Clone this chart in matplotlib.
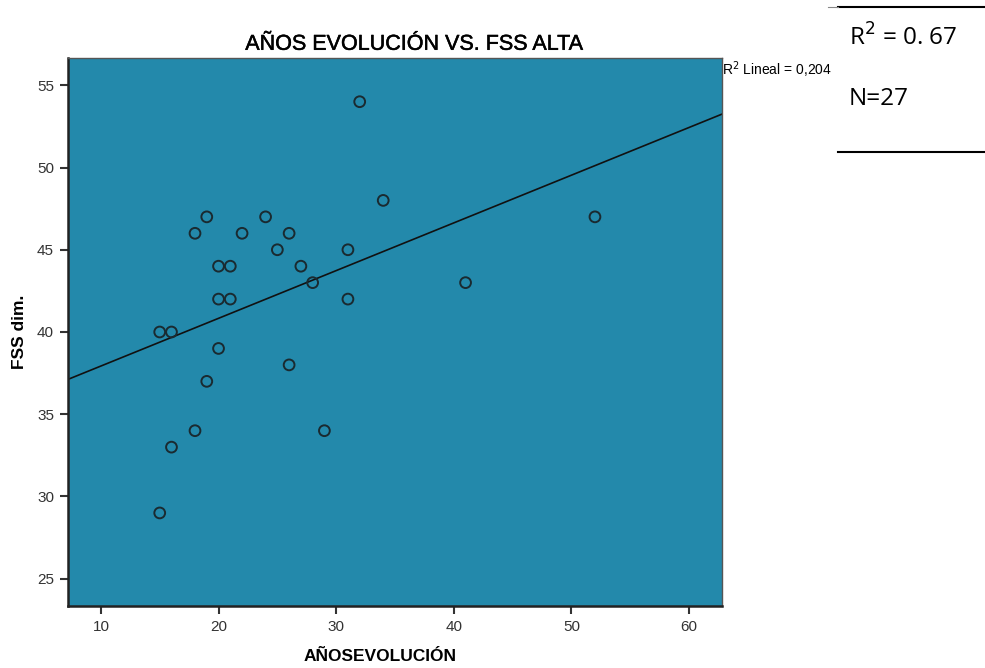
import numpy as np
import matplotlib
matplotlib.use('Agg')
import matplotlib.pyplot as plt
import matplotlib.patheffects as pe
from matplotlib.lines import Line2D

plt.rcParams['font.family'] = ['Liberation Sans', 'DejaVu Sans']

# =====================
# DATA
# =====================
anos_evolucion = [32, 34, 19, 24, 52, 18, 22, 26, 25, 31, 20, 21, 27, 28,
                  41, 20, 21, 31, 15, 16, 20, 26, 19, 18, 29, 16, 15]
fss_dim = [54, 48, 47, 47, 47, 46, 46, 46, 45, 45, 44, 44, 44, 43,
           43, 42, 42, 42, 40, 40, 39, 38, 37, 34, 34, 33, 29]
x_ticks = [10, 20, 30, 40, 50, 60]
y_ticks = [25, 30, 35, 40, 45, 50, 55]

# =====================
# FIGURE
# =====================
fig = plt.figure(figsize=(9.85, 6.68), dpi=100)
ax = fig.add_axes([0.069, 0.093, 0.664, 0.820])
ax.set_facecolor('#2389ab')

ax.scatter(anos_evolucion, fss_dim, s=60, facecolors='none',
           edgecolors='#1a2a30', linewidths=1.4, zorder=3)

# regression line
slope, intercept = np.polyfit(anos_evolucion, fss_dim, 1)
xl = np.array([7.2, 62.8])
ax.plot(xl, slope * xl + intercept, color='#111111', lw=1.2, zorder=2)

ax.set_xlim(7.2, 62.8)
ax.set_ylim(23.35, 56.65)
ax.set_xticks(x_ticks)
ax.set_yticks(y_ticks)
ax.tick_params(direction='out', length=6, width=1.5, color='#333333',
               labelsize=11, labelcolor='#333333', pad=4)
for s in ['top', 'right']:
    ax.spines[s].set_linewidth(1.0)
    ax.spines[s].set_color('#555555')
for s in ['left', 'bottom']:
    ax.spines[s].set_linewidth(1.8)
    ax.spines[s].set_color('#222222')

ttl = ax.set_title('AÑOS EVOLUCIÓN VS. FSS ALTA', fontsize=15.5, pad=6, x=0.529)
ttl.set_path_effects([pe.withStroke(linewidth=0.35, foreground='black')])
ax.set_xlabel('AÑOSEVOLUCIÓN', fontsize=12.5, fontweight='bold')
ax.xaxis.set_label_coords(0.477, -0.078)
ax.set_ylabel('FSS dim.', fontsize=12.5, fontweight='bold')
ax.yaxis.set_label_coords(-0.062, 0.5)

fig.text(0.733, 0.895, r'R$^2$ Lineal = 0,204', fontsize=10, va='center', ha='left')

# =====================
# SIDE BOX
# =====================
fig.text(0.862, 0.943, r'R$^2$ = 0. 67', fontsize=17.5, va='center', ha='left',
         family=['Open Sans', 'DejaVu Sans'])
fig.text(0.862, 0.852, 'N=27', fontsize=17.5, va='center', ha='left',
         family=['Open Sans', 'DejaVu Sans'])
fig.add_artist(Line2D([0.851, 1.0], [0.989, 0.989], color='black', lw=1.5))
fig.add_artist(Line2D([0.841, 0.851], [0.990, 0.990], color='#888888', lw=0.8))
fig.add_artist(Line2D([0.851, 1.0], [0.772, 0.772], color='black', lw=1.5))

fig.savefig('out.png', dpi=100)
